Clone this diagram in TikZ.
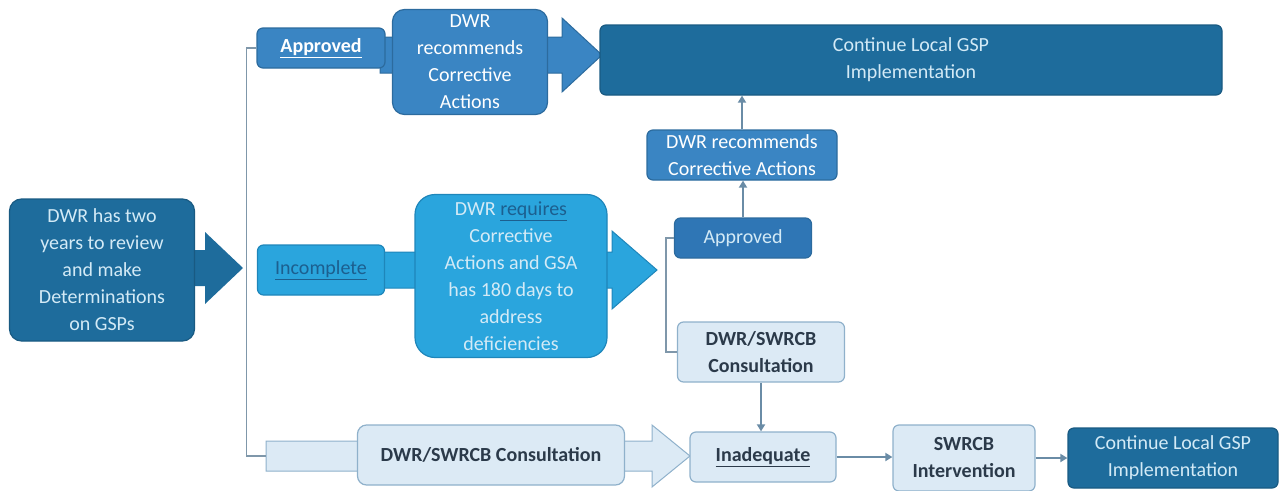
\documentclass[tikz,border=0pt]{standalone}
\usepackage{fontspec}
\setmainfont{Carlito}
\usetikzlibrary{backgrounds,arrows.meta,calc}
\definecolor{darkb}{HTML}{1E6C9C}
\definecolor{darkedge}{HTML}{195A82}
\definecolor{midb}{HTML}{3A85C3}
\definecolor{midedge}{HTML}{2C6B9E}
\definecolor{aprb}{HTML}{2F76B5}
\definecolor{brightb}{HTML}{2AA5DD}
\definecolor{brightedge}{HTML}{1E86BA}
\definecolor{lightb}{HTML}{DCEAF5}
\definecolor{lightedge}{HTML}{8FB1CB}
\definecolor{paletxt}{HTML}{D3EAF6}
\definecolor{darktxt}{HTML}{2B3A4A}
\definecolor{inctxt}{HTML}{1C5F8F}
\definecolor{gline}{HTML}{7F97AA}
\definecolor{cline}{HTML}{6A8CA6}
\begin{document}
\begin{tikzpicture}[x=1pt,y=-1pt,
  every node/.style={align=center,inner sep=0pt,font=\fontsize{20}{27}\selectfont},
  boxbase/.style={rounded corners=6pt,line width=1.2pt},
  darkbox/.style={boxbase,fill=darkb,draw=darkedge,text=paletxt},
  midbox/.style={boxbase,fill=midb,draw=midedge,text=white},
  brightbox/.style={boxbase,fill=brightb,draw=brightedge,text=paletxt},
  lightbox/.style={boxbase,fill=lightb,draw=lightedge,text=darktxt,font=\fontsize{20}{27}\selectfont\bfseries},
  grayline/.style={draw=gline,line width=1.6pt},
  conn/.style={draw=cline,line width=2.6pt,-{Triangle[length=7pt,width=8pt]}},
]
\useasboundingbox (0,0) rectangle (1285,490);

% nodes
\node[darkbox,rounded corners=12pt,minimum width=185pt,minimum height=142pt] (left) at (102,270)
  {DWR has two\\years to review\\and make\\Determinations\\on GSPs};
\node[midbox,minimum width=128pt,minimum height=40pt,font=\fontsize{20}{27}\selectfont\bfseries] (apr1) at (321,48) {\underline{Approved}};
\node[midbox,rounded corners=12pt,minimum width=155pt,minimum height=105pt] (rec1) at (470,62)
  {DWR\\recommends\\Corrective\\Actions};
\node[darkbox,minimum width=622pt,minimum height=70pt] (big) at (911,60) {Continue Local GSP\\Implementation};
\node[midbox,minimum width=190pt,minimum height=50pt] (rec2) at (742,155) {DWR recommends\\Corrective Actions};
\node[midbox,fill=aprb,minimum width=137pt,minimum height=40pt,text=paletxt] (apr2) at (743,238) {Approved};
\node[brightbox,minimum width=127pt,minimum height=50pt,text=inctxt] (inc) at (321,270) {\underline{Incomplete}};
\node[brightbox,rounded corners=20pt,minimum width=192pt,minimum height=163pt] (req) at (511,276)
  {DWR \textcolor{inctxt}{\underline{requires}}\\Corrective\\Actions and GSA\\has 180 days to\\address\\deficiencies};
\node[lightbox,minimum width=167pt,minimum height=60pt] (cons2) at (761,352) {DWR/SWRCB\\Consultation};
\node[lightbox,rounded corners=9pt,minimum width=267pt,minimum height=60pt] (cons1) at (491,455) {DWR/SWRCB Consultation};
\node[lightbox,minimum width=146pt,minimum height=50pt] (inad) at (763,457) {\underline{Inadequate}};
\node[lightbox,minimum width=142pt,minimum height=66pt] (swr) at (964,458) {SWRCB\\Intervention};
\node[darkbox,minimum width=210pt,minimum height=60pt] (cont2) at (1173,458) {Continue Local GSP\\Implementation};
\coordinate (b0) at (266,456);

% block arrows (shapes behind the boxes)
\begin{scope}[on background layer]
  \fill[darkb] (185,250) -- (205,250) -- (205,232) -- (243,268) -- (205,304) -- (205,286) -- (185,286) -- cycle;
  \filldraw[fill=midb,draw=midedge,line width=1pt] (380,37) -- (562,37) -- (562,18) -- (602,55) -- (562,92) -- (562,73) -- (380,73) -- cycle;
  \filldraw[fill=brightb,draw=brightedge,line width=1pt] (380,252) -- (612,252) -- (612,231) -- (657,270) -- (612,309) -- (612,288) -- (380,288) -- cycle;
  \filldraw[fill=lightb,draw=lightedge,line width=1pt] (266,441) -- (652,441) -- (652,425) -- (690,456) -- (652,487) -- (652,471) -- (266,471) -- cycle;
\end{scope}

% connectors
\draw[grayline] (apr1.west) -- ++(-10,0) |- (b0);
\draw[grayline] (apr2.west) -- ++(-8,0) |- (cons2.west);
\draw[conn] (apr2.north) -- (apr2.north |- rec2.south);
\draw[conn] (rec2.north) -- (rec2.north |- big.south);
\draw[conn] (cons2.south) -- (cons2.south |- inad.north);
\draw[conn] (inad.east) -- (inad.east -| swr.west);
\draw[conn] (swr.east) -- (swr.east -| cont2.west);
\end{tikzpicture}
\end{document}
